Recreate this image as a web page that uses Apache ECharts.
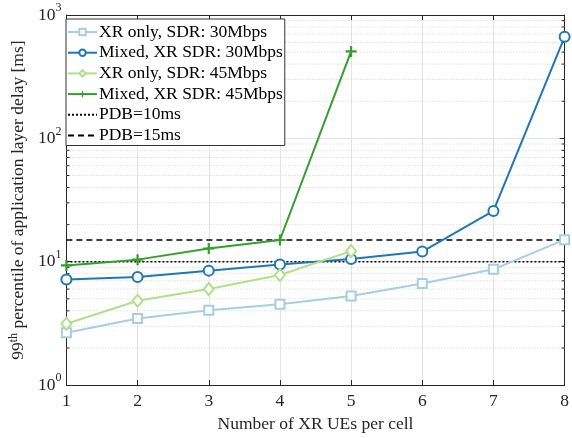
<!DOCTYPE html>
<html>
<head>
<meta charset="utf-8">
<script src="https://cdn.jsdelivr.net/npm/echarts@6/dist/echarts.min.js"></script>
<style>
  html, body { margin: 0; padding: 0; background: #fff; }
  #chart { width: 572px; height: 438px; }
</style>
</head>
<body>
<div id="chart"></div>
<script>
// Number of XR UEs per cell
const ues = [1, 2, 3, 4, 5, 6, 7, 8];

// 99th percentile application layer delay [ms]
const xrOnly30 = [2.66, 3.47, 4.05, 4.52, 5.27, 6.66, 8.68, 15.1];
const mixed30 = [7.17, 7.53, 8.47, 9.51, 10.5, 12.1, 25.8, 665];
const xrOnly45 = [3.14, 4.83, 6.0, 7.81, 12.2];
const mixed45 = [9.34, 10.4, 12.8, 15.0, 507];

// Packet delay budgets [ms]
const pdb10 = 10;
const pdb15 = 15;

// Log axis range and the decade tick marks in between
const yMin = 1;
const yMax = 1000;
const decades = [1, 10, 100];
const minorSteps = [2, 3, 4, 5, 6, 7, 8, 9];

const seriesNames = [
  'XR only, SDR: 30Mbps',
  'Mixed, XR SDR: 30Mbps',
  'XR only, SDR: 45Mbps',
  'Mixed, XR SDR: 45Mbps',
  'PDB=10ms',
  'PDB=15ms'
];

const FONT = '"Liberation Serif", "DejaVu Serif", serif';
const FS = 17.5;
const AXIS = '#262626';
const GRID = '#e3e3e3';
const MINOR = '#cfcfcf';

const pairs = (xs, ys) => ys.map((y, i) => [xs[i], y]);
const flat = (v) => [[ues[0], v], [ues[ues.length - 1], v]];
const minorValues = [];
decades.forEach(d => minorSteps.forEach(s => minorValues.push(d * s)));

const plusPath = 'path://M4,0h2v4h4v2h-4v4h-2v-4h-4v-2h4z';

function marked(name, data, color, symbol, size) {
  return {
    name, type: 'line', data,
    xAxisIndex: 0, yAxisIndex: 0,
    symbol, symbolSize: size, showSymbol: true,
    lineStyle: { color, width: 2 },
    itemStyle: symbol === plusPath
      ? { color, borderWidth: 0 }
      : { color: '#fff', borderColor: color, borderWidth: 2 },
    emphasis: { disabled: true },
    z: 5
  };
}

function refLine(name, value, dash) {
  return {
    name, type: 'line', data: flat(value),
    symbol: 'none', showSymbol: false,
    lineStyle: { color: '#000', width: 1.5, type: dash },
    itemStyle: { color: '#000' },
    emphasis: { disabled: true },
    z: 4
  };
}

// Minor log grid: dotted line across the plot plus short inward ticks on both sides
const minorGrid = {
  type: 'custom',
  silent: true,
  z: 1,
  data: minorValues.map(v => [v]),
  renderItem: (params, api) => {
    const v = api.value(0);
    const a = api.coord([ues[0], v]);
    const b = api.coord([ues[ues.length - 1], v]);
    return {
      type: 'group',
      children: [
        { type: 'line', shape: { x1: a[0], y1: a[1], x2: b[0], y2: b[1] },
          style: { stroke: MINOR, lineWidth: 1, lineDash: [1, 2] } },
        { type: 'line', shape: { x1: a[0], y1: a[1], x2: a[0] + 3, y2: a[1] },
          style: { stroke: AXIS, lineWidth: 1 } },
        { type: 'line', shape: { x1: b[0] - 3, y1: b[1], x2: b[0], y2: b[1] },
          style: { stroke: AXIS, lineWidth: 1 } }
      ]
    };
  }
};

const chart = echarts.init(document.getElementById('chart'), null, { renderer: 'canvas' });

chart.setOption({
  animation: false,
  backgroundColor: '#fff',
  grid: { left: 61, right: 4, top: 12, bottom: 52 },
  legend: {
    orient: 'vertical',
    left: 66, top: 19,
    data: seriesNames.map((n, i) => i < 4 ? { name: n } : { name: n, itemStyle: { opacity: 0 } }),
    itemWidth: 29, itemHeight: 8, itemGap: 2.7,
    padding: [4, 2, 1, 1],
    backgroundColor: '#fff',
    borderColor: '#333', borderWidth: 1,
    textStyle: { fontFamily: FONT, fontSize: FS, color: '#000', padding: [0, 0, 0, -3] },
    z: 10
  },
  xAxis: [{
    type: 'value', min: 1, max: 8, interval: 1, position: 'bottom',
    name: 'Number of XR UEs per cell', nameLocation: 'middle', nameGap: 28.5,
    nameTextStyle: { fontFamily: FONT, fontSize: FS, color: AXIS },
    axisLine: { show: true, lineStyle: { color: AXIS, width: 1 } },
    axisTick: { show: true, inside: true, length: 5, lineStyle: { color: AXIS } },
    axisLabel: { fontFamily: FONT, fontSize: FS, color: AXIS, margin: 7 },
    splitLine: { show: true, lineStyle: { color: GRID, width: 1 } }
  }, {
    type: 'value', min: 1, max: 8, interval: 1, position: 'top',
    axisLine: { show: true, lineStyle: { color: AXIS, width: 1 } },
    axisTick: { show: true, inside: true, length: 5, lineStyle: { color: AXIS } },
    axisLabel: { show: false },
    splitLine: { show: false }
  }],
  yAxis: [{
    type: 'log', logBase: 10, min: yMin, max: yMax, position: 'left',
    name: '{n|99}{s|th}{n| percentile of application layer delay [ms]}',
    nameLocation: 'middle', nameGap: 31.5, nameRotate: 90,
    nameTextStyle: {
      fontFamily: FONT, fontSize: FS, color: AXIS,
      rich: {
        n: { fontFamily: FONT, fontSize: FS, color: AXIS },
        s: { fontFamily: FONT, fontSize: 12, color: AXIS, verticalAlign: 'bottom', padding: [0, 0, 8, 0] }
      }
    },
    axisLine: { show: true, lineStyle: { color: AXIS, width: 1 } },
    axisTick: { show: true, inside: true, length: 5, lineStyle: { color: AXIS } },
    axisLabel: {
      margin: 5,
      formatter: (v) => '{b|10}{e|' + Math.round(Math.log10(v)) + '}',
      rich: {
        b: { fontFamily: FONT, fontSize: FS, lineHeight: 18, color: AXIS, verticalAlign: 'bottom', padding: [6, 0, 0, 0] },
        e: { fontFamily: FONT, fontSize: 12, lineHeight: 12, color: AXIS, verticalAlign: 'bottom', padding: [0, 0, 10, 0] }
      }
    },
    splitLine: { show: true, lineStyle: { color: GRID, width: 1 } }
  }, {
    type: 'log', logBase: 10, min: yMin, max: yMax, position: 'right',
    axisLine: { show: true, lineStyle: { color: AXIS, width: 1 } },
    axisTick: { show: true, inside: true, length: 5, lineStyle: { color: AXIS } },
    axisLabel: { show: false },
    splitLine: { show: false }
  }],
  series: [
    minorGrid,
    marked(seriesNames[0], pairs(ues, xrOnly30), '#a6cee3', 'rect', 9),
    marked(seriesNames[1], pairs(ues, mixed30), '#1f78b4', 'circle', 10),
    marked(seriesNames[2], pairs(ues, xrOnly45), '#b2df8a', 'diamond', [10, 12]),
    marked(seriesNames[3], pairs(ues, mixed45), '#33a02c', plusPath, 11),
    refLine(seriesNames[4], pdb10, [2, 2]),
    refLine(seriesNames[5], pdb15, [6, 4])
  ]
});
</script>
</body>
</html>
